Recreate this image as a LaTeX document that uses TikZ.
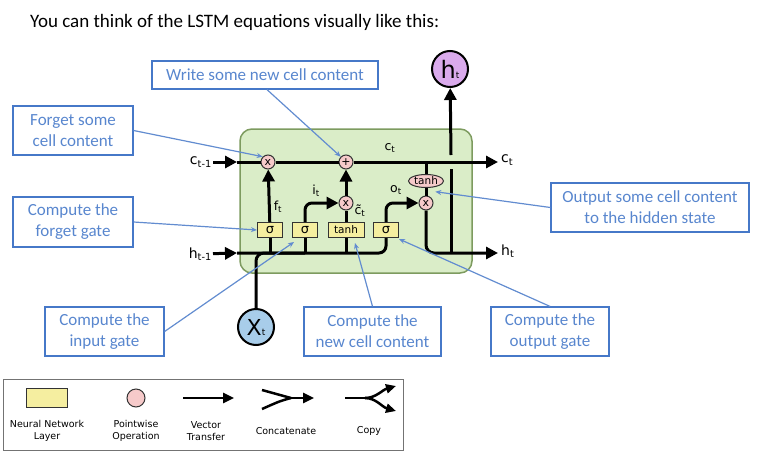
\documentclass[tikz,border=0pt]{standalone}
\usepackage{fontspec}
\setmainfont{Carlito}
\newfontfamily\dejavu{DejaVu Sans}
\usetikzlibrary{calc}
\usetikzlibrary{arrows.meta}
\usetikzlibrary{shapes.geometric}
\definecolor{cellgreen}{RGB}{218,237,200}
\definecolor{cellborder}{RGB}{125,155,95}
\definecolor{layeryellow}{RGB}{245,238,160}
\definecolor{oppink}{RGB}{246,202,202}
\definecolor{noteblue}{RGB}{70,120,200}
\definecolor{xblue}{RGB}{168,205,234}
\definecolor{hpurple}{RGB}{218,170,236}
\tikzset{
        layer/.style = {draw = black!80, fill = layeryellow, line width = 1pt, minimum width = 25pt,
                minimum height = 15pt, inner sep = 0pt, font = \dejavu\fontsize{13}{13}\selectfont},
        op/.style = {circle, draw = black!80, fill = oppink, line width = 1pt, minimum size = 14pt,
                inner sep = 0pt, font = \dejavu\fontsize{11}{11}\selectfont},
        note/.style = {draw = noteblue, line width = 1.2pt, text = noteblue!90!white, align = center,
                inner sep = 0pt, font = \fontsize{17}{21}\selectfont},
        wire/.style = {line width = 3pt},
        flow/.style = {line width = 3pt, -{Triangle[length = 12pt, width = 12pt]}},
        pointer/.style = {noteblue!85!white, line width = 1.2pt, -{Stealth[length = 6pt, width = 5pt]}},
        lbl/.style = {font = \dejavu\fontsize{14}{14}\selectfont, inner sep = 1pt},
        legendtxt/.style = {font = \dejavu\fontsize{9.5}{12}\selectfont, align = center, inner sep = 0pt}
}
\begin{document}
\begin{tikzpicture}[x = 1pt, y = -1pt]
        \useasboundingbox (0,0) rectangle (758,461);
        \node[anchor = west, font = \fontsize{19}{19}\selectfont, inner sep = 0pt] (title) at (30,22)
                {You can think of the LSTM equations visually like this:};

        \filldraw[fill = cellgreen, draw = cellborder, line width = 1.5pt, rounded corners = 12pt]
                (240,129) rectangle (472,273);

        \node[op] (fx) at (268,162) {x};
        \node[op] (plus) at (346,162) {+};
        \node[op] (ix) at (346,203) {x};
        \node[op] (ox) at (426,203) {x};
        \node[ellipse, draw = black!80, fill = oppink, line width = 1pt, minimum width = 35pt,
                minimum height = 13pt, inner sep = 0pt, font = \dejavu\fontsize{10.5}{10.5}\selectfont]
                (tanhc) at (426,181) {tanh};
        \node[layer] (sig1) at (270,230) {σ};
        \node[layer] (sig2) at (305,230) {σ};
        \node[layer, minimum width = 36pt, font = \dejavu\fontsize{10.5}{10.5}\selectfont] (tanhgate) at (346,230) {tanh};
        \node[layer] (sig3) at (386,230) {σ};

        \node[circle, draw, line width = 2pt, fill = xblue, minimum size = 36pt, inner sep = 0pt] (xt) at (256,327)
                {\dejavu\fontsize{22}{22}\selectfont X\fontsize{9}{9}\selectfont t};
        \node[circle, draw, line width = 2pt, fill = hpurple, minimum size = 36pt, inner sep = 0pt] (ht) at (450,69)
                {\dejavu\fontsize{24}{24}\selectfont h\fontsize{9}{9}\selectfont t};

        \coordinate (cin) at (213,162);
        \coordinate (cleft) at (237,162);
        \coordinate (ctap) at (426,162);
        \coordinate (cout) at (498,162);
        \coordinate (hin) at (213,253);
        \coordinate (hleft) at (237,253);
        \coordinate (hup) at (451,253);
        \coordinate (hout) at (498,253);
        \coordinate (gaplow) at (451,169);
        \coordinate (gaphigh) at (451,155);

        \node[lbl, anchor = east] (ctm1) at (cin) {c\textsubscript{t-1}};
        \node[lbl, anchor = east] (htm1) at ($(hin)+(0,1)$) {h\textsubscript{t-1}};
        \node[lbl, anchor = west] (ctnext) at ($(cout)+(2,-2)$) {c\textsubscript{t}};
        \node[lbl, anchor = west] (htnext) at ($(hout)+(2,-2)$) {h\textsubscript{t}};
        \node[lbl, font = \dejavu\fontsize{12.5}{12.5}\selectfont] (ct) at (390,148) {c\textsubscript{t}};

        \draw[flow] (ctm1) -- (cleft);
        \draw[wire] (cleft) -- (fx) (fx) -- (plus);
        \draw[flow] (plus) -- (cout);
        \draw[flow] (htm1) -- (hleft);
        \draw[wire, rounded corners = 7pt] (hleft) -| (sig3);
        \draw[wire, rounded corners = 8pt] (xt) |- (sig2 |- hleft);

        \draw[wire] (sig1 |- hleft) -- (sig1);
        \draw[flow] (sig1) -- (fx);
        \draw[wire] (sig2 |- hleft) -- (sig2);
        \draw[flow, rounded corners = 7pt] (sig2) |- (ix);
        \draw[wire] (tanhgate |- hleft) -- (tanhgate);
        \draw[wire] (tanhgate) -- (ix);
        \draw[flow] (ix) -- (plus);
        \draw[flow, rounded corners = 7pt] (sig3) |- (ox);

        \draw[wire] (ctap) -- (tanhc);
        \draw[wire] (tanhc) -- (ox);
        \draw[flow, rounded corners = 8pt] (ox) |- (hout);
        \draw[wire] (hup) -- (gaplow);
        \draw[flow] (gaphigh) -- (ht);

        \node[lbl, font = \dejavu\fontsize{12.5}{12.5}\selectfont] (ft) at (278,207) {f\textsubscript{t}};
        \node[lbl, font = \dejavu\fontsize{12.5}{12.5}\selectfont] (it) at (316,191) {i\textsubscript{t}};
        \node[lbl, font = \dejavu\fontsize{12.5}{12.5}\selectfont] (ctilde) at (360,211) {\~{c}\textsubscript{t}};
        \node[lbl, font = \dejavu\fontsize{12.5}{12.5}\selectfont] (ot) at (396,190) {o\textsubscript{t}};

        \node[note, minimum width = 226pt, minimum height = 28pt] (write) at (265,75) {Write some new cell content};
        \node[note, minimum width = 120pt, minimum height = 49pt] (forget) at (73,130.5) {Forget some\\cell content};
        \node[note, minimum width = 120pt, minimum height = 50pt] (fgate) at (73,222) {Compute the\\forget gate};
        \node[note, minimum width = 119pt, minimum height = 49pt] (igate) at (104.5,331.5) {Compute the\\input gate};
        \node[note, minimum width = 137pt, minimum height = 49pt] (newcell) at (372.5,331.5) {Compute the\\new cell content};
        \node[note, minimum width = 118pt, minimum height = 49pt] (ogate) at (550,331.5) {Compute the\\output gate};
        \node[note, minimum width = 198pt, minimum height = 49pt] (output) at (650,207.5) {Output some cell content\\to the hidden state};

        \draw[pointer] ($(write.south)+(2,0)$) -- (plus.north west);
        \draw[pointer] (forget.east) -- (fx.north west);
        \draw[pointer] (fgate.east) -- (sig1.west);
        \draw[pointer] (igate.east) -- ($(sig2.south west)+(2,4)$);
        \draw[pointer] (newcell.north) -- ($(tanhgate.south)+(9,5)$);
        \draw[pointer] (ogate.north) -- ($(sig3.south east)+(0,1)$);
        \draw[pointer] (output.west) -- ($(ox.north east)+(4,-6)$);

        \draw[black!55, line width = 1pt] (3,379) rectangle (403,450);
        \node[draw = black!80, fill = layeryellow, line width = 1pt, minimum width = 41pt, minimum height = 19pt,
                inner sep = 0pt] (nnl) at (47,398) {};
        \node[circle, draw = black!80, fill = oppink, line width = 1pt, minimum size = 18pt, inner sep = 0pt]
                (pwo) at (136,398) {};
        \coordinate (vstart) at (183,398);
        \coordinate (vend) at (234,398);
        \draw[line width = 2.5pt, -{Triangle[length = 11pt, width = 10pt]}] (vstart) -- (vend);
        \coordinate (cata) at (262,390);
        \coordinate (catb) at (262,409);
        \coordinate (catm) at (291,398);
        \coordinate (catend) at (314,398);
        \draw[line width = 2.5pt] (cata) .. controls (280,395) .. (catm);
        \draw[line width = 2.5pt] (catb) .. controls (280,401) .. (catm);
        \draw[line width = 2.5pt, -{Triangle[length = 11pt, width = 10pt]}] (catm) -- (catend);
        \coordinate (cpa) at (345,398);
        \coordinate (cpm) at (365,398);
        \coordinate (cpup) at (396,386);
        \coordinate (cpdown) at (396,411);
        \draw[line width = 2.5pt] (cpa) -- (cpm);
        \draw[line width = 2.5pt, -{Triangle[length = 10pt, width = 9pt]}] (cpm) .. controls (376,398) and (382,390) .. (cpup);
        \draw[line width = 2.5pt, -{Triangle[length = 10pt, width = 9pt]}] (cpm) .. controls (376,398) and (382,407) .. (cpdown);

        \node[legendtxt] (nnltxt) at (47,431) {Neural Network\\Layer};
        \node[legendtxt] (pwotxt) at (136,431) {Pointwise\\Operation};
        \node[legendtxt] (vtxt) at (206,431) {Vector\\Transfer};
        \node[legendtxt] (cattxt) at (286,431) {Concatenate};
        \node[legendtxt] (cptxt) at (369,431) {Copy};
\end{tikzpicture}
\end{document}
